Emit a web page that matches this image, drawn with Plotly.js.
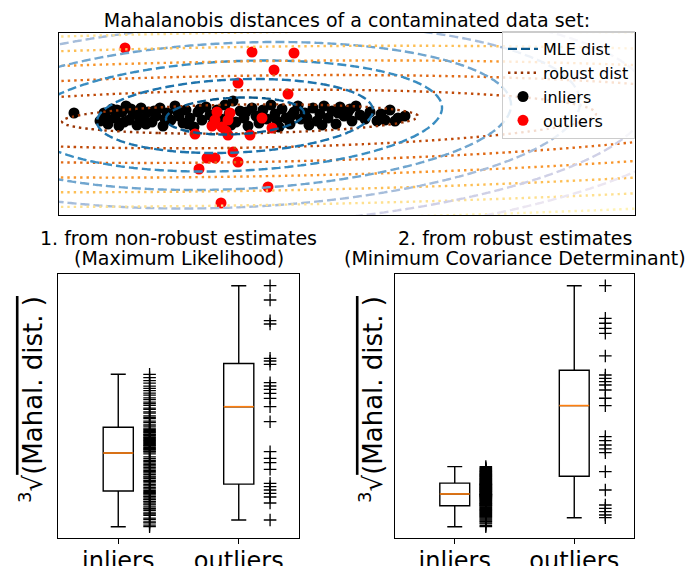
<!DOCTYPE html>
<html><head><meta charset="utf-8">
<script src="https://cdn.plot.ly/plotly-3.0.1.min.js"></script>
<style>html,body{margin:0;padding:0;background:#fff}#chart{width:690px;height:566px}</style>
</head><body><div id="chart"></div>
<script>
// ---------- top panel: contaminated data set ----------
const inlierX = [-4.15,-3.5,-3.4,-3.3,-3.2,-3.125,-3.025,-2.95,-2.85,-2.775,-2.675,-2.575,-2.475,-2.4,-2.3,-2.2,-2.1,-2.0,-1.925,-1.825,-1.725,-1.625,-1.525,-1.425,-1.35,-1.25,-1.15,-1.05,-0.95,-0.85,-0.75,-0.675,-0.575,-0.475,-0.375,-0.275,-0.175,-0.1,0,0.1,0.2,0.3,0.4,0.475,0.575,0.675,0.775,0.875,0.975,1.05,1.15,1.25,1.35,1.45,1.525,1.625,1.725,1.825,1.925,2.0,2.1,2.2,2.3,2.4,2.5,2.6,2.7,2.8,2.9,3.0,3.125,3.425,3.625,3.75,3.95,4.125,-3.35,-3.075,-2.9,-2.725,-2.525,-2.35,-2.15,-1.875,-1.575,-1.3,-1.0,-0.625,-0.225,0.15,0.525,0.925,1.3,1.675,2.05,2.45,2.75,3.25,3.525,3.875];
const inlierY = [0.6,-1.0,0.6,-1.6,1.4,-0.4,-2.0,0.8,2.0,-0.8,0.4,-1.8,1.6,-0.6,0.8,-1.2,0,1.6,-2.0,0.6,-0.8,2.0,0,-1.4,1.2,-0.4,-2.2,0.8,-0.8,1.8,0.2,-1.6,1.2,-0.6,2.2,0.4,3.0,-1.2,1.0,-0.4,-2.0,1.6,0,-1.4,1.2,-0.6,2.2,0.4,-2.2,1.4,-0.4,-1.6,0.8,2.0,-0.6,0.6,-1.8,1.6,-1.0,0.4,2.0,-0.4,1.0,-1.6,1.8,0,0.8,-1.0,2.0,0.2,-0.6,-1.0,-0.8,1.2,-0.4,0,-0.2,1.2,-1.2,1.4,-0.2,-1.6,1.0,-0.6,1.0,-1.6,1.4,-0.4,-1.8,0.8,0.2,-1.0,0.2,-0.4,-1.8,0.6,1.4,0.8,0.4,-1.0];
const outlierX = [-2.875,0.3,1.35,0.85,-0.05,1.2,-0.575,-0.625,-0.3,-0.45,0.55,0.8,-1.125,-0.3,0.25,-0.175,-0.825,-0.625,-0.05,-1.025,0.7,-0.475,-0.7,-0.25,-0.35];
const outlierY = [13.6,12.8,12.6,9.2,6.6,4.4,0.8,-0.8,-0.8,-2.2,-0.4,-2.4,-3.6,-3.8,-3.8,-7.2,-8.4,-8.4,-9.2,-10.6,-14.2,-17.4,-2.0,0.6,-3.0];
// estimated location / covariance of the two distance functions
const mleCenter = [-0.125, 0];
const mleCov = [[2.976, 0.957], [0.957, 13.69]];
const robustCenter = [0, -0.6];
const robustCov = [[19.8, 2.38], [2.38, 8.58]];
const contourLevels = [1, 2, 3, 4, 5, 6, 7];
const topLegendNames = ['MLE dist', 'robust dist', 'inliers', 'outliers'];

// ---------- bottom panels: cube root of Mahalanobis distances ----------
const boxCategories = ['inliers', 'outliers'];
const mleInliers = [0.333,0.348,0.371,0.382,0.405,0.419,0.446,0.458,0.47,0.493,0.508,0.516,0.531,0.552,0.561,0.578,0.586,0.603,0.611,0.628,0.637,0.652,0.664,0.673,0.684,
0.696,0.712,0.724,0.741,0.753,0.772,0.786,0.797,0.815,0.829,0.838,0.856,0.871,0.883,0.897,0.912,0.926,0.941,0.953,0.968,0.984,0.996,1.013,1.031,1.062,
1.078,1.087,1.098,1.106,1.117,1.125,1.138,1.146,1.153,1.167,1.174,1.186,1.193,1.205,1.214,1.226,1.232,1.247,1.253,1.262,1.276,1.284,1.297,1.306,1.318,
1.338,1.352,1.374,1.389,1.413,1.426,1.441,1.468,1.482,1.507,1.519,1.546,1.563,1.578,1.604,1.622,1.649,1.668,1.693,1.716,1.739,1.768,1.794,1.823,1.857];
const mleOutliers = [2.743,2.60,2.393,2.36,2.017,1.99,1.957,1.773,1.74,1.707,1.667,1.617,1.533,1.383,1.083,1.017,0.973,0.907,0.767,0.733,0.70,0.667,0.63,0.57,0.40];
const mcdInliers = [0.222,0.241,0.268,0.284,0.305,0.318,0.337,0.352,0.369,0.381,0.396,0.408,0.423,0.437,0.446,0.461,0.473,0.486,0.494,0.507,0.516,0.528,0.539,0.551,0.566,
0.574,0.583,0.592,0.604,0.611,0.622,0.631,0.643,0.652,0.661,0.672,0.68,0.689,0.698,0.706,0.714,0.721,0.729,0.735,0.741,0.748,0.753,0.757,0.761,0.764,
0.770,0.778,0.786,0.793,0.801,0.809,0.816,0.824,0.831,0.838,0.846,0.853,0.861,0.868,0.874,0.882,0.889,0.897,0.903,0.911,0.917,0.924,0.929,0.936,0.942,
0.954,0.963,0.975,0.982,0.994,1.003,1.011,1.024,1.032,1.041,1.053,1.062,1.071,1.083,1.092,1.104,1.113,1.126,1.138,1.149,1.161,1.174,1.188,1.204,1.222];
const mcdOutliers = [4.238,3.695,3.612,3.528,3.445,3.067,2.75,2.695,2.638,2.583,2.5,2.362,2.24,1.722,1.655,1.583,1.517,1.455,1.14,0.833,0.583,0.528,0.472,0.417,0.372];

// ---------- styling ----------
const W = 690, H = 566;
const FONT = 'DejaVu Sans, sans-serif';
const mleColors = ['#0b5a8e', '#1f74ad', '#3a8dc1', '#71a6cf', '#a6bddb', '#cfd0e6', '#ebe6f1'];
const robColors = ['#993404', '#c04a08', '#e06a16', '#f8962c', '#fdbf55', '#fee08f', '#fff3b6'];
const topXRange = [-4.525, 9.875], topYRange = [-19.8, 16.6];
const px = v => v / W, py = v => 1 - v / H;

function mahalGrid(center, cov, xr, yr, n) {
  const det = cov[0][0] * cov[1][1] - cov[0][1] * cov[1][0];
  const a = cov[1][1] / det, b = -cov[0][1] / det, c = cov[0][0] / det;
  const padx = (xr[1] - xr[0]) * 0.03, pady = (yr[1] - yr[0]) * 0.03;
  const xs = [], ys = [], z = [];
  for (let i = 0; i < n; i++) xs.push(xr[0] - padx + (xr[1] - xr[0] + 2 * padx) * i / (n - 1));
  for (let j = 0; j < n; j++) ys.push(yr[0] - pady + (yr[1] - yr[0] + 2 * pady) * j / (n - 1));
  for (let j = 0; j < n; j++) {
    const row = [];
    for (let i = 0; i < n; i++) {
      const dx = xs[i] - center[0], dy = ys[j] - center[1];
      row.push(Math.sqrt(a * dx * dx + 2 * b * dx * dy + c * dy * dy));
    }
    z.push(row);
  }
  return {xs, ys, z};
}
function median(arr) {
  const s = arr.slice().sort((p, q) => p - q), m = s.length / 2;
  return s.length % 2 ? s[Math.floor(m)] : (s[m - 1] + s[m]) / 2;
}

const traces = [];
// legend entries for the contour families
traces.push({type: 'scatter', mode: 'lines', x: [null], y: [null], name: topLegendNames[0], legendgroup: 'a',
  line: {color: mleColors[0], width: 2.4, dash: '9px,4px'}, hoverinfo: 'skip'});
traces.push({type: 'scatter', mode: 'lines', x: [null], y: [null], name: topLegendNames[1], legendgroup: 'b',
  line: {color: robColors[0], width: 2.4, dash: '2.4px,4px'}, hoverinfo: 'skip'});
traces.push({type: 'scatter', mode: 'markers', x: inlierX, y: inlierY, name: topLegendNames[2], legendgroup: 'c',
  marker: {color: 'black', size: 11}, hoverinfo: 'skip'});
traces.push({type: 'scatter', mode: 'markers', x: outlierX, y: outlierY, name: topLegendNames[3], legendgroup: 'd',
  marker: {color: '#ff0000', size: 11}, hoverinfo: 'skip'});

const gM = mahalGrid(mleCenter, mleCov, topXRange, topYRange, 140);
const gR = mahalGrid(robustCenter, robustCov, topXRange, topYRange, 140);
contourLevels.forEach((lv, i) => {
  traces.push({type: 'contour', x: gR.xs, y: gR.ys, z: gR.z, xaxis: 'x4', yaxis: 'y4', showscale: false, showlegend: false,
    hoverinfo: 'skip', contours: {start: lv, end: lv + 0.5, size: 1, coloring: 'none'},
    line: {color: robColors[i], width: 2.4, dash: '2.4px,4px', smoothing: 1}});
  traces.push({type: 'contour', x: gM.xs, y: gM.ys, z: gM.z, xaxis: 'x4', yaxis: 'y4', showscale: false, showlegend: false,
    hoverinfo: 'skip', contours: {start: lv, end: lv + 0.5, size: 1, coloring: 'none'},
    line: {color: mleColors[i], width: 2.4, dash: '9px,4px', smoothing: 1}});
});

function addBoxPanel(inl, outl, xa, ya) {
  [[inl, 1], [outl, 2]].forEach(([vals, pos]) => {
    traces.push({type: 'box', y: vals, x0: pos, xaxis: xa, yaxis: ya, width: 0.25, boxpoints: false,
      whiskerwidth: 0.5, line: {color: 'black', width: 1.4}, fillcolor: 'rgba(0,0,0,0)', showlegend: false, hoverinfo: 'skip'});
    const m = median(vals);
    traces.push({type: 'scatter', mode: 'lines', x: [pos - 0.125, pos + 0.125], y: [m, m], xaxis: xa, yaxis: ya,
      line: {color: '#ff7f0e', width: 1.6}, showlegend: false, hoverinfo: 'skip'});
    traces.push({type: 'scatter', mode: 'markers', x: vals.map(() => pos + 0.26), y: vals, xaxis: xa, yaxis: ya,
      marker: {symbol: 'cross-thin', size: 9, color: 'black', line: {width: 1.3, color: 'black'}}, showlegend: false, hoverinfo: 'skip'});
  });
}
addBoxPanel(mleInliers, mleOutliers, 'x2', 'y2');
addBoxPanel(mcdInliers, mcdOutliers, 'x3', 'y3');

const frame = {showline: true, mirror: true, linecolor: 'black', linewidth: 1.2, showgrid: false, zeroline: false, fixedrange: true};
const boxX = (d0, d1, anchor) => Object.assign({}, frame, {domain: [px(d0), px(d1)], anchor, range: [0.5, 2.5],
  tickvals: [1, 2], ticktext: boxCategories, ticks: 'outside', ticklen: 5, tickwidth: 1.2, tickcolor: 'black',
  ticklabelstandoff: -4, tickfont: {size: 24, color: 'black', family: FONT}});
const boxY = (range, anchor) => Object.assign({}, frame, {domain: [py(538), py(274)], anchor, range,
  showticklabels: false, ticks: ''});

const ylabelText = '<sup>3</sup>√<span style="text-decoration:overline">(Mahal. dist. )</span>';
const layout = {
  width: W, height: H, margin: {l: 0, r: 0, t: 0, b: 0},
  paper_bgcolor: 'white', plot_bgcolor: 'white',
  font: {family: FONT, color: 'black'},
  title: {text: 'Mahalanobis distances of a contaminated data set:', font: {size: 19, color: 'black', family: FONT},
    x: px(347), xanchor: 'center', y: py(20), yanchor: 'middle'},
  xaxis: Object.assign({}, frame, {domain: [px(59), px(635)], range: topXRange, showticklabels: false, ticks: '', anchor: 'y'}),
  yaxis: Object.assign({}, frame, {domain: [py(215), py(33)], range: topYRange, showticklabels: false, ticks: '', anchor: 'x'}),
  xaxis4: {overlaying: 'x', range: topXRange, visible: false, anchor: 'y4', fixedrange: true},
  yaxis4: {overlaying: 'y', range: topYRange, visible: false, anchor: 'x4', fixedrange: true},
  xaxis2: boxX(58, 299, 'y2'),
  yaxis2: boxY([0.22, 2.86], 'x2'),
  xaxis3: boxX(395, 634, 'y3'),
  yaxis3: boxY([0.0333, 4.433], 'x3'),
  showlegend: true,
  legend: {x: px(635), xanchor: 'right', y: py(31), yanchor: 'top', bgcolor: 'rgba(255,255,255,0.8)',
    bordercolor: '#cccccc', borderwidth: 1, font: {size: 16, color: 'black', family: FONT}, tracegroupgap: 0, itemwidth: 30},
  annotations: [
    {text: '1. from non-robust estimates', x: px(178.5), y: py(238), xref: 'paper', yref: 'paper', showarrow: false, font: {size: 19}, xanchor: 'center', yanchor: 'middle'},
    {text: '(Maximum Likelihood)', x: px(178.5), y: py(258), xref: 'paper', yref: 'paper', showarrow: false, font: {size: 19}, xanchor: 'center', yanchor: 'middle'},
    {text: '2. from robust estimates', x: px(514.5), y: py(238), xref: 'paper', yref: 'paper', showarrow: false, font: {size: 19}, xanchor: 'center', yanchor: 'middle'},
    {text: '(Minimum Covariance Determinant)', x: px(514.5), y: py(258), xref: 'paper', yref: 'paper', showarrow: false, font: {size: 19}, xanchor: 'center', yanchor: 'middle'},
    {text: ylabelText, x: px(31), y: py(400), xref: 'paper', yref: 'paper', showarrow: false, textangle: -90, font: {size: 26}, xanchor: 'center', yanchor: 'middle'},
    {text: ylabelText, x: px(371), y: py(400), xref: 'paper', yref: 'paper', showarrow: false, textangle: -90, font: {size: 26}, xanchor: 'center', yanchor: 'middle'}
  ]
};
Plotly.newPlot('chart', traces, layout, {staticPlot: true, displayModeBar: false});
</script></body></html>
